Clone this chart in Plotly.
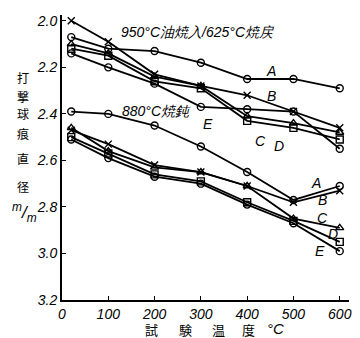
import plotly.graph_objects as go

temps = [20, 100, 200, 300, 400, 500, 600]
series_names = ["A", "B", "C", "D", "E"]

# 950°C oil quenched / 625°C tempered
qt_A = [2.07, 2.12, 2.13, 2.18, 2.25, 2.25, 2.29]
qt_B = [2.00, 2.09, 2.23, 2.28, 2.32, 2.39, 2.46]
qt_C = [2.10, 2.14, 2.24, 2.28, 2.41, 2.44, 2.48]
qt_D = [2.12, 2.15, 2.26, 2.29, 2.43, 2.46, 2.51]
qt_E = [2.14, 2.20, 2.27, 2.37, 2.38, 2.39, 2.55]

# 880°C annealed
an_A = [2.39, 2.40, 2.45, 2.54, 2.65, 2.77, 2.71]
an_B = [2.47, 2.53, 2.62, 2.65, 2.71, 2.78, 2.73]
an_C = [2.46, 2.56, 2.63, 2.65, 2.71, 2.85, 2.89]
an_D = [2.50, 2.57, 2.66, 2.69, 2.78, 2.86, 2.95]
an_E = [2.51, 2.59, 2.67, 2.70, 2.79, 2.87, 2.99]

x_ticks = [0, 100, 200, 300, 400, 500, 600]
y_ticks = [2.0, 2.2, 2.4, 2.6, 2.8, 3.0, 3.2]
y_tick_text = ["2.0", "2.2", "2.4", "2.6", "2.8", "3.0", "3.2"]

symbols = {"A": "circle-open", "B": "x-thin-open", "C": "triangle-up-open",
           "D": "square-open", "E": "circle-open"}

fig = go.Figure()
for grp, data in (("950", [qt_A, qt_B, qt_C, qt_D, qt_E]),
                  ("880", [an_A, an_B, an_C, an_D, an_E])):
    for name, ys in zip(series_names, data):
        fig.add_trace(go.Scatter(
            x=temps, y=ys, mode="lines+markers", name=f"{grp} {name}",
            line=dict(color="black", width=1.8),
            marker=dict(symbol=symbols[name], size=7, color="black",
                        line=dict(color="black", width=1.4)),
            showlegend=False,
        ))

FONT = "Liberation Sans"
ital = dict(family=FONT, size=14, color="black", style="italic")

def px2x(px):
    return (px - 62) / 280 * 600

def py2y(py):
    return 2.0 + (py - 21) / 232.5

ann = []
ann.append(dict(x=px2x(199), y=py2y(32), text="950°C油焼入/625°C焼戻",
                font=dict(family=FONT, size=14, color="black", style="italic")))
ann.append(dict(x=px2x(157), y=py2y(111), text="880°C焼鈍",
                font=dict(family=FONT, size=14, color="black", style="italic")))

# upper group labels
for t, px, py in (("A", 273, 71), ("B", 273, 96)):
    ann.append(dict(x=px2x(px), y=py2y(py), text=t, font=ital))
for t, px, py, tx, ty in (("E", 209, 124, 213, 108),
                           ("C", 262, 141, 272, 127),
                           ("D", 281, 146, 284, 130)):
    ann.append(dict(x=px2x(tx), y=py2y(ty), ax=px2x(px), ay=py2y(py),
                    axref="x", ayref="y", text=t, font=ital, showarrow=True,
                    arrowhead=0, arrowwidth=1, arrowcolor="black", standoff=0,
                    startstandoff=7))
# lower group labels
for t, px, py in (("A", 318, 183), ("B", 325, 200), ("C", 325, 218),
                  ("D", 335, 234), ("E", 322, 251)):
    ann.append(dict(x=px2x(px), y=py2y(py), text=t, font=ital))

# y-axis title (vertical characters)
for ch, py in (("打", 77), ("撃", 96), ("球", 114), ("痕", 133), ("直", 158),
               ("径", 186)):
    ann.append(dict(x=23, y=py, xref="paper", yref="paper", text=ch,
                    font=dict(family="Noto Sans CJK JP", size=12, color="black")))
ann.append(dict(x=24, y=212, xref="paper", yref="paper",
                text="<sup>m</sup>/<sub>m</sub>",
                font=dict(family=FONT, size=17, color="black", style="italic")))
# x-axis title
for ch, px in (("試", 152), ("験", 187), ("温", 220), ("度", 250)):
    ann.append(dict(x=px, y=329, xref="paper", yref="paper", text=ch,
                    font=dict(family="Noto Sans CJK JP", size=13, color="black")))
ann.append(dict(x=278, y=328, xref="paper", yref="paper", text="°C",
                font=dict(family=FONT, size=15, color="black", style="italic")))

# convert pixel-positioned paper annotations
W, H = 360, 338
L, R, T, B = 62, 8, 15, 38
pw, ph = W - L - R, H - T - B
for a in ann:
    if a.get("xref") == "paper":
        a["x"] = (a["x"] - L) / pw
        a["y"] = 1 - (a["y"] - T) / ph
    a.setdefault("showarrow", False)
    a["xanchor"] = "center"
    a["yanchor"] = "middle"

fig.update_layout(
    width=W, height=H,
    margin=dict(l=L, r=R, t=T, b=B, pad=0),
    paper_bgcolor="white", plot_bgcolor="white",
    annotations=ann,
    xaxis=dict(range=[0, 620], tickvals=x_ticks, ticks="inside", ticklen=4,
               tickcolor="black", showline=True, linecolor="black", linewidth=2,
               showgrid=False, zeroline=False, tickfont=ital),
    yaxis=dict(range=[3.2, 1.975], tickvals=y_ticks, ticktext=y_tick_text,
               ticks="inside", ticklen=4, tickcolor="black", showline=True,
               linecolor="black", linewidth=2, showgrid=False, zeroline=False,
               tickfont=ital),
)

fig.write_html("out.html", config={"displayModeBar": False},
               post_script="document.body.style.margin='0';document.body.style.overflow='hidden';")
